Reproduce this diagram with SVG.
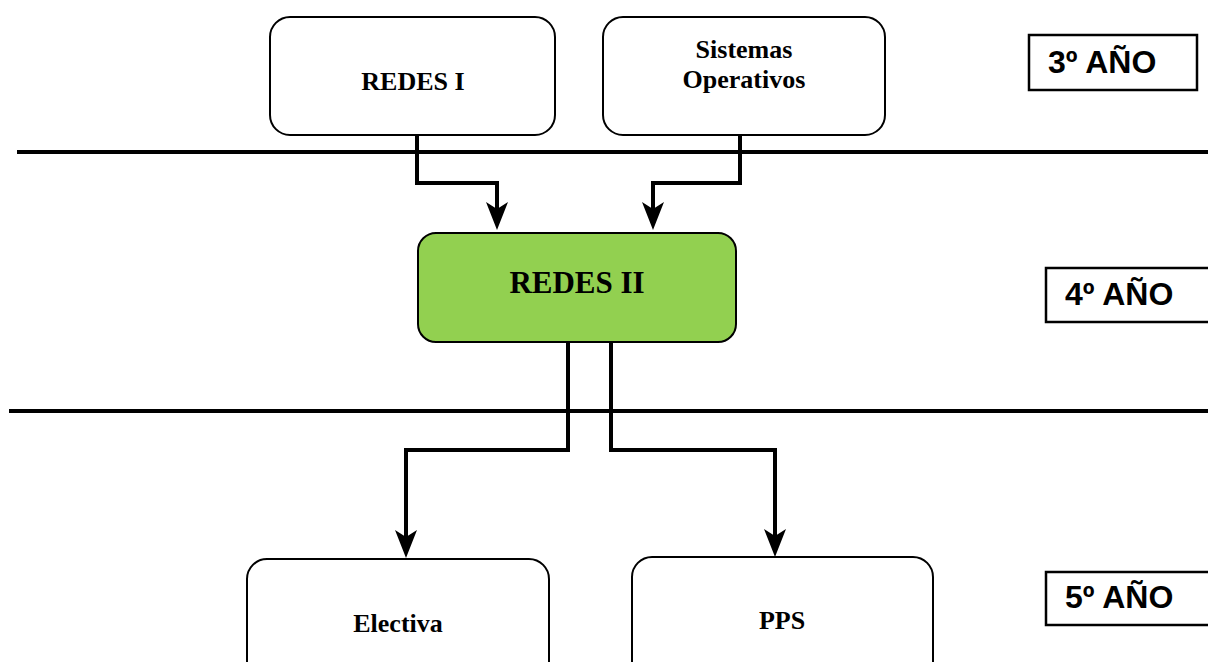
<svg xmlns="http://www.w3.org/2000/svg" width="1208" height="662" viewBox="0 0 1208 662">
<style>
.node{fill:#ffffff;stroke:#000;stroke-width:2}
.green{fill:#92d050;stroke:#000;stroke-width:2}
.lbl{font-family:"Liberation Serif","Times New Roman",serif;font-weight:bold;font-size:26px;fill:#000;text-anchor:middle}
.year{font-family:"Liberation Sans",Arial,sans-serif;font-weight:bold;font-size:32px;fill:#000}
.ybox{fill:#fff;stroke:#000;stroke-width:2.5}
.sep{stroke:#000;stroke-width:4}
.conn{fill:none;stroke:#000;stroke-width:4}
</style>
<defs>
<marker id="arrow" markerUnits="userSpaceOnUse" viewBox="0 0 28 22" markerWidth="28" markerHeight="22" refX="14" refY="11" orient="auto">
<path d="M0,0 L28,11 L0,22 L7,11 Z" fill="#000"/>
</marker>
</defs>
<rect width="1208" height="662" fill="#fff"/>
<g id="separators">
<line class="sep" x1="17" y1="152" x2="1208" y2="152"/>
<line class="sep" x1="9" y1="411" x2="1208" y2="411"/>
</g>
<g id="redes1">
<rect class="node" x="270" y="17" width="285" height="118" rx="20"/>
<text class="lbl" x="413" y="90">REDES I</text>
</g>
<g id="sistemas">
<rect class="node" x="603" y="17" width="282" height="118" rx="20"/>
<text class="lbl" x="744" y="58">Sistemas</text>
<text class="lbl" x="744" y="88">Operativos</text>
</g>
<g id="redes2">
<rect class="green" x="418" y="233" width="318" height="109" rx="18"/>
<text class="lbl" x="577" y="293" style="font-size:31px">REDES II</text>
</g>
<g id="electiva">
<rect class="node" x="247" y="559" width="302" height="130" rx="20"/>
<text class="lbl" x="398" y="632">Electiva</text>
</g>
<g id="pps">
<rect class="node" x="632" y="557" width="301" height="130" rx="20"/>
<text class="lbl" x="782" y="629">PPS</text>
</g>
<g id="year3">
<rect class="ybox" x="1029" y="35" width="168" height="55"/>
<text class="year" x="1048" y="73">3º AÑO</text>
</g>
<g id="year4">
<rect class="ybox" x="1046" y="268" width="180" height="54"/>
<text class="year" x="1065" y="305">4º AÑO</text>
</g>
<g id="year5">
<rect class="ybox" x="1046" y="572" width="180" height="53"/>
<text class="year" x="1065" y="608">5º AÑO</text>
</g>
<g id="connectors">
<path class="conn" d="M417,135 V183 H497 V216" marker-end="url(#arrow)"/>
<path class="conn" d="M740,135 V183 H653 V216" marker-end="url(#arrow)"/>
<path class="conn" d="M568,342 V450 H406 V544" marker-end="url(#arrow)"/>
<path class="conn" d="M611,342 V450 H775 V543" marker-end="url(#arrow)"/>
</g>
</svg>
